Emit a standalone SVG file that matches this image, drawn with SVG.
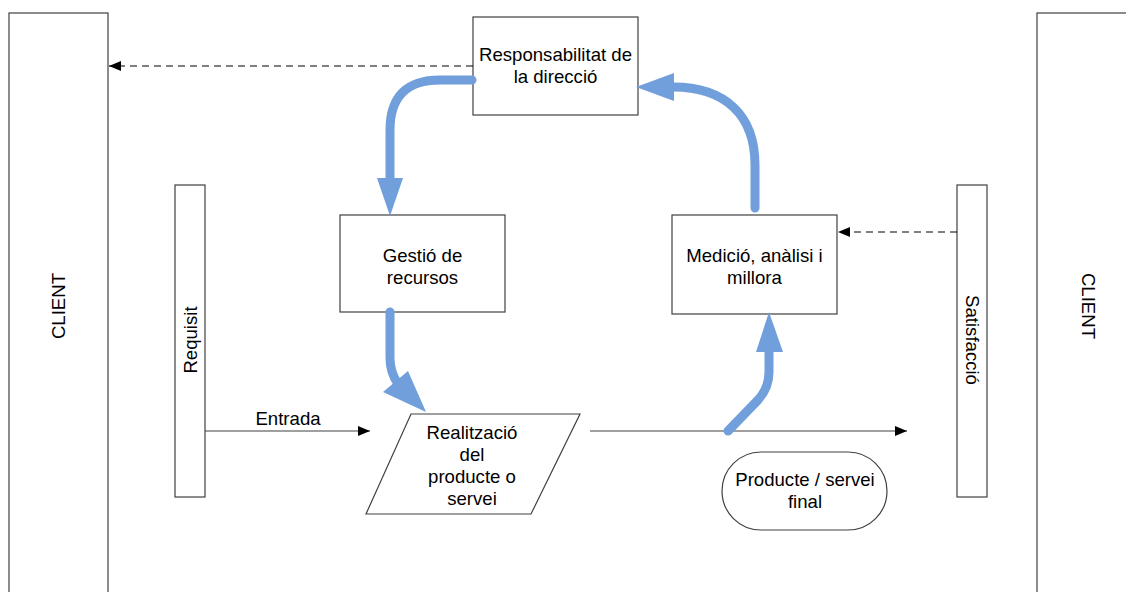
<svg xmlns="http://www.w3.org/2000/svg" width="1126" height="592" viewBox="0 0 1126 592">
  <style>
    .box { fill: #ffffff; stroke: #404040; stroke-width: 1.2; }
    .lbl { font-family: "Liberation Sans", Arial, sans-serif; font-size: 18.6px; fill: #000000; text-anchor: middle; }
    .thin { fill: none; stroke: #404040; stroke-width: 1.2; }
    .dash { fill: none; stroke: #000000; stroke-width: 1.2; stroke-dasharray: 7 5; }
    .flow { fill: none; stroke: #709fdc; stroke-width: 9; stroke-linecap: round; stroke-linejoin: round; }
    .head { fill: #709fdc; }
  </style>
  <defs>
    <marker id="tip" viewBox="0 0 12 10" refX="12" refY="5" markerWidth="12" markerHeight="10" markerUnits="userSpaceOnUse" orient="auto">
      <path d="M0,0 L12,5 L0,10 Z" fill="#000000"/>
    </marker>
  </defs>

  <rect width="1126" height="592" fill="#ffffff"/>

  <!-- customer lanes -->
  <g id="client-left">
    <rect class="box" x="9" y="13" width="99" height="600"/>
    <text class="lbl" transform="translate(58,306) rotate(-90)" y="6.5">CLIENT</text>
  </g>
  <g id="client-right">
    <rect class="box" x="1037" y="13" width="100" height="600"/>
    <text class="lbl" transform="translate(1088,306) rotate(90)" y="6.5">CLIENT</text>
  </g>

  <g id="requisit">
    <rect class="box" x="175" y="185" width="30" height="312"/>
    <text class="lbl" transform="translate(190,340) rotate(-90)" y="6.5">Requisit</text>
  </g>
  <g id="satisfaccio">
    <rect class="box" x="957" y="185" width="30" height="312"/>
    <text class="lbl" transform="translate(972,340) rotate(90)" y="6.5">Satisfacció</text>
  </g>

  <!-- process boxes -->
  <g id="responsabilitat">
    <rect class="box" x="473" y="17" width="165" height="98"/>
    <text class="lbl" x="555.5" y="60.5">Responsabilitat de</text>
    <text class="lbl" x="555.5" y="82.5">la direcció</text>
  </g>
  <g id="gestio">
    <rect class="box" x="340" y="215" width="165" height="97"/>
    <text class="lbl" x="422.5" y="261.5">Gestió de</text>
    <text class="lbl" x="422.5" y="283.5">recursos</text>
  </g>
  <g id="medicio">
    <rect class="box" x="672" y="215" width="165" height="99"/>
    <text class="lbl" x="754.5" y="261.5">Medició, anàlisi i</text>
    <text class="lbl" x="754.5" y="283.5">millora</text>
  </g>
  <g id="realitzacio">
    <polygon class="box" points="411,414 580,414 531,514 366,514"/>
    <text class="lbl" x="472" y="438.5">Realització</text>
    <text class="lbl" x="472" y="460.5">del</text>
    <text class="lbl" x="472" y="482.5">producte o</text>
    <text class="lbl" x="472" y="504.5">servei</text>
  </g>
  <g id="producte-final">
    <rect class="box" x="722" y="452" width="165" height="78" rx="39" ry="39"/>
    <text class="lbl" x="805" y="485.5">Producte / servei</text>
    <text class="lbl" x="805" y="507.5">final</text>
  </g>

  <!-- connectors -->
  <g id="connectors">
    <line class="thin" x1="205" y1="431" x2="370" y2="431" marker-end="url(#tip)"/>
    <text class="lbl" x="288" y="425">Entrada</text>
    <line class="thin" x1="590" y1="431" x2="907" y2="431" marker-end="url(#tip)"/>
    <line class="dash" x1="473" y1="66" x2="109" y2="66" marker-end="url(#tip)"/>
    <line class="dash" x1="957" y1="232" x2="838" y2="232" marker-end="url(#tip)"/>

    <!-- improvement cycle -->
    <path class="flow" d="M472,80 H440 Q390,80 390,130 V180"/>
    <polygon class="head" points="377,178 403,178 390,216"/>

    <path class="flow" d="M390,312 V358 Q390,372 398,384"/>
    <polygon class="head" points="383,392 408,371 426,412"/>

    <path class="flow" d="M728,431 L758,400 Q769,388 769,372 V352"/>
    <polygon class="head" points="756,352 783,352 769,312"/>

    <path class="flow" d="M755,208 V165 C755,115 725,87 673,87"/>
    <polygon class="head" points="674,73 674,101 636,87"/>
  </g>
</svg>
